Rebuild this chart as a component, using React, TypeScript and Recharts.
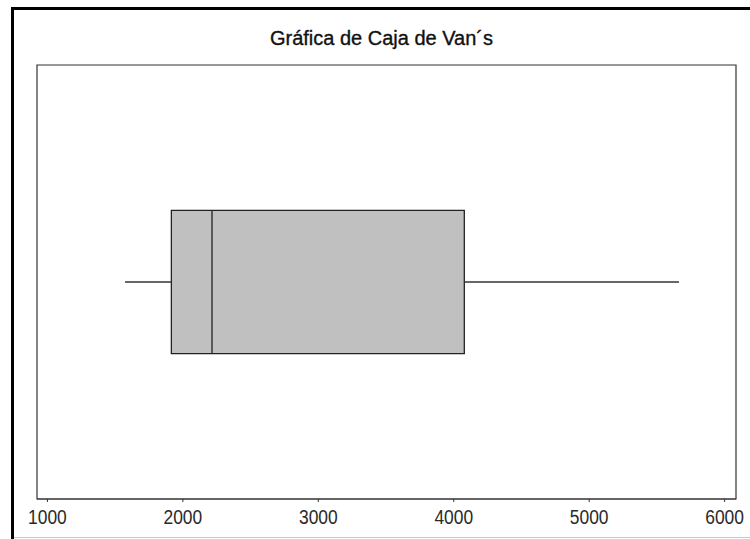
import React from "react";
import {
  ComposedChart,
  XAxis,
  YAxis,
  Scatter,
  ReferenceArea,
  ReferenceLine,
} from "recharts";

// ---- data ----
const categories = ["Van´s"];
const minValues = [1573];
const q1Values = [1915];
const medianValues = [2215];
const q3Values = [4078];
const maxValues = [5663];
const xTicks = [1000, 2000, 3000, 4000, 5000, 6000];
const title = "Gráfica de Caja de Van´s";

// ---- layout constants (not data) ----
const X_DOMAIN: [number, number] = [923, 6084];
const BOX_LOW = 0.335;
const BOX_HIGH = 0.665;
const MID = 0.5;

const anchorPoints = categories.map((c, i) => ({
  name: c,
  x: minValues[i],
  y: MID,
}));
const anchorPoints2 = categories.map((c, i) => ({
  name: c,
  x: maxValues[i],
  y: MID,
}));

const NarrowTick = (props: any) => {
  const { x, y, payload } = props;
  return (
    <g transform={`translate(${x},${y})`}>
      <text
        x={0}
        y={0}
        dy="0.71em"
        textAnchor="middle"
        transform="scale(0.87,1)"
        fontFamily="'Liberation Sans', Arial, sans-serif"
        fontSize={20}
        fill="#2a2a2a"
      >
        {payload.value}
      </text>
    </g>
  );
};

export default function App() {
  const i = 0;
  return (
    <div
      style={{
        position: "absolute",
        left: 0,
        top: 0,
        width: 750,
        height: 539,
        overflow: "hidden",
        background: "#fff",
      }}
    >
      {/* outer frame */}
      <div
        style={{
          position: "absolute",
          left: 11,
          top: 7,
          width: 800,
          height: 600,
          borderLeft: "3px solid #000",
          borderTop: "3px solid #000",
          boxSizing: "border-box",
        }}
      />
      <div
        style={{
          position: "absolute",
          left: 14,
          top: 537,
          width: 800,
          height: 1,
          background: "#c8c8c8",
        }}
      />
      <svg
        width={750}
        height={60}
        style={{ position: "absolute", left: 0, top: 0 }}
      >
        <text
          x={381.5}
          y={45}
          textAnchor="middle"
          fontFamily="'Liberation Sans', Arial, sans-serif"
          fontSize={20}
          fill="#111"
          stroke="#111"
          strokeWidth={0.35}
        >
          {title}
        </text>
      </svg>
      <div style={{ position: "absolute", left: 0, top: 0 }}>
        <ComposedChart
          width={750}
          height={539}
          margin={{ top: 65, right: 14, left: 37, bottom: 10 }}
        >
          <XAxis
            type="number"
            dataKey="x"
            domain={X_DOMAIN}
            ticks={xTicks}
            allowDataOverflow
            height={30}
            tickSize={3}
            tickMargin={8}
            axisLine={{ stroke: "#333", strokeWidth: 1 }}
            tickLine={{ stroke: "#333" }}
            tick={<NarrowTick />}
          />
          <YAxis type="number" dataKey="y" domain={[0, 1]} hide />
          <ReferenceArea
            x1={X_DOMAIN[0]}
            x2={X_DOMAIN[1]}
            y1={0}
            y2={1}
            fill="none"
            fillOpacity={0}
            stroke="#333"
            strokeWidth={1.2}
            ifOverflow="visible"
          />
          <ReferenceLine
            segment={[
              { x: minValues[i], y: MID },
              { x: q1Values[i], y: MID },
            ]}
            stroke="#333"
            strokeWidth={1.3}
          />
          <ReferenceLine
            segment={[
              { x: q3Values[i], y: MID },
              { x: maxValues[i], y: MID },
            ]}
            stroke="#333"
            strokeWidth={1.3}
          />
          <ReferenceArea
            x1={q1Values[i]}
            x2={q3Values[i]}
            y1={BOX_LOW}
            y2={BOX_HIGH}
            fill="#c0c0c0"
            fillOpacity={1}
            stroke="#222"
            strokeWidth={1.3}
          />
          <ReferenceLine
            segment={[
              { x: medianValues[i], y: BOX_LOW },
              { x: medianValues[i], y: BOX_HIGH },
            ]}
            stroke="#222"
            strokeWidth={1.3}
          />
          <Scatter
            data={anchorPoints}
            isAnimationActive={false}
            shape={() => <g />}
          />
          <Scatter
            data={anchorPoints2}
            isAnimationActive={false}
            shape={() => <g />}
          />
        </ComposedChart>
      </div>
    </div>
  );
}
